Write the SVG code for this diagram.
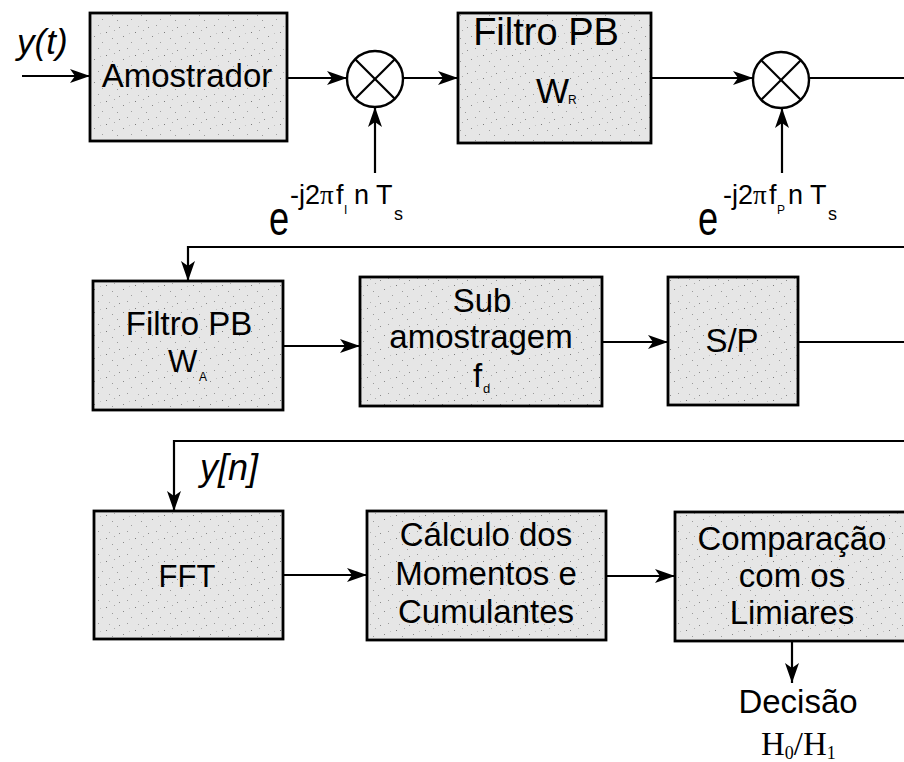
<svg xmlns="http://www.w3.org/2000/svg" width="904" height="762" viewBox="0 0 904 762">
<defs>
<pattern id="speck" width="29" height="23" patternUnits="userSpaceOnUse">
<rect width="29" height="23" fill="#e6e6e6"/>
<rect x="3" y="4" width="1" height="1" fill="#8a8a8a"/>
<rect x="11" y="2" width="1" height="1" fill="#9a9a9a"/>
<rect x="19" y="9" width="1" height="1" fill="#7a7a7a"/>
<rect x="25" y="15" width="1" height="1" fill="#9a9a9a"/>
<rect x="7" y="13" width="1" height="1" fill="#888"/>
<rect x="15" y="19" width="1" height="1" fill="#a0a0a0"/>
<rect x="22" y="3" width="1" height="1" fill="#b0b0b0"/>
<rect x="1" y="20" width="1" height="1" fill="#999"/>
<rect x="13" y="10" width="1" height="1" fill="#c0c0c0"/>
<rect x="27" y="7" width="1" height="1" fill="#aaa"/>
</pattern>
<marker id="ah" markerWidth="20" markerHeight="14" refX="20" refY="7" orient="auto" markerUnits="userSpaceOnUse">
<path d="M0,0 L20,7 L0,14 L5,7 Z" fill="#000"/>
</marker>
<style>
.box{fill:url(#speck);stroke:#000;stroke-width:2.8}
.ln{fill:none;stroke:#000;stroke-width:2.2}
.ar{fill:none;stroke:#000;stroke-width:2.2;marker-end:url(#ah)}
.t{font-family:"Liberation Sans",Arial,sans-serif;font-size:33px;fill:#000}
.c{text-anchor:middle}
.it{font-style:italic}
.sup{font-family:"Liberation Sans",Arial,sans-serif;font-size:27px;fill:#000}
.sub{font-family:"Liberation Sans",Arial,sans-serif;font-size:13px;fill:#000}
.srf{font-family:"Liberation Serif","Times New Roman",serif;fill:#000}
.mul{fill:#fff;stroke:#000;stroke-width:2.4}
</style>
</defs>

<g id="connectors">
<line class="ar" x1="22" y1="76" x2="90" y2="76"/>
<line class="ar" x1="287" y1="78" x2="347" y2="78"/>
<line class="ar" x1="403" y1="78" x2="458" y2="78"/>
<line class="ar" x1="651" y1="78" x2="753" y2="78"/>
<line class="ln" x1="809" y1="78" x2="904" y2="78"/>
<line class="ar" x1="375" y1="173" x2="375" y2="107"/>
<line class="ar" x1="782" y1="173" x2="782" y2="108"/>
<polyline class="ar" points="904,247 188,247 188,281"/>
<line class="ar" x1="283" y1="346" x2="360" y2="346"/>
<line class="ar" x1="602" y1="342" x2="668" y2="342"/>
<line class="ln" x1="798" y1="342" x2="904" y2="342"/>
<polyline class="ar" points="904,441 174,441 174,511"/>
<line class="ar" x1="283" y1="575" x2="367" y2="575"/>
<line class="ar" x1="606" y1="576" x2="675" y2="576"/>
<line class="ar" x1="792" y1="641" x2="792" y2="683"/>
</g>

<g id="input-label">
<text class="t it" x="17" y="54" style="font-size:35px">y(t)</text>
</g>

<g id="amostrador">
<rect class="box" x="90" y="13" width="197" height="128"/>
<text class="t c" x="187" y="87">Amostrador</text>
</g>

<g id="mult1">
<circle class="mul" cx="375" cy="79" r="28"/>
<line class="ln" x1="355.2" y1="59.2" x2="394.8" y2="98.8"/>
<line class="ln" x1="394.8" y1="59.2" x2="355.2" y2="98.8"/>
</g>

<g id="osc1">
<text class="t" style="font-size:49px" transform="translate(269,235) scale(0.74,1)">e</text>
<text class="sup" y="204"><tspan x="290">-j2</tspan><tspan x="320" class="srf">π</tspan><tspan x="336">f</tspan></text>
<text class="sub" x="344" y="214" style="font-size:12px">I</text>
<text class="sup" y="204"><tspan x="354">n</tspan><tspan x="376">T</tspan></text>
<text class="sub" x="394" y="220" style="font-size:18px">s</text>
</g>

<g id="filtro-wr">
<rect class="box" x="458" y="13" width="193" height="130"/>
<text class="t c" x="546" y="45" style="font-size:38px">Filtro PB</text>
<text class="t" x="536" y="103" style="font-size:35px">W</text>
<text class="sub" x="568" y="104" style="font-size:12px">R</text>
</g>

<g id="mult2">
<circle class="mul" cx="781" cy="80" r="28"/>
<line class="ln" x1="761.2" y1="60.2" x2="800.8" y2="99.8"/>
<line class="ln" x1="800.8" y1="60.2" x2="761.2" y2="99.8"/>
</g>

<g id="osc2">
<text class="t" style="font-size:49px" transform="translate(698,235) scale(0.74,1)">e</text>
<text class="sup" y="204"><tspan x="723">-j2</tspan><tspan x="753" class="srf">π</tspan><tspan x="769">f</tspan></text>
<text class="sub" x="777" y="214" style="font-size:12px">P</text>
<text class="sup" y="204"><tspan x="788">n</tspan><tspan x="810">T</tspan></text>
<text class="sub" x="828" y="220" style="font-size:18px">s</text>
</g>

<g id="filtro-wa">
<rect class="box" x="93" y="281" width="190" height="129"/>
<text class="t c" x="189" y="335">Filtro PB</text>
<text class="t" x="168" y="372" style="font-size:31px">W</text>
<text class="sub" x="199" y="381" style="font-size:12px">A</text>
</g>

<g id="subamostragem">
<rect class="box" x="360" y="277" width="242" height="129"/>
<text class="t c" x="482" y="312">Sub</text>
<text class="t c" x="481" y="348">amostragem</text>
<text class="t" x="473" y="387">f</text>
<text class="sub" x="483" y="393">d</text>
</g>

<g id="sp">
<rect class="box" x="668" y="277" width="130" height="128"/>
<text class="t c" x="732" y="352">S/P</text>
</g>

<g id="yn-label">
<text class="t it" x="200" y="480" style="font-size:36px">y[n]</text>
</g>

<g id="fft">
<rect class="box" x="94" y="511" width="189" height="128"/>
<text class="t c" x="187" y="587" style="font-size:31px">FFT</text>
</g>

<g id="calculo">
<rect class="box" x="367" y="511" width="239" height="129"/>
<text class="t c" x="486" y="546">Cálculo dos</text>
<text class="t c" x="486" y="585">Momentos e</text>
<text class="t c" x="486" y="623">Cumulantes</text>
</g>

<g id="comparacao">
<rect class="box" x="675" y="512" width="232" height="129"/>
<text class="t c" x="792" y="550">Comparação</text>
<text class="t c" x="792" y="587">com os</text>
<text class="t c" x="792" y="624">Limiares</text>
</g>

<g id="decisao">
<text class="t c" x="798" y="713">Decisão</text>
<text class="srf" y="755" style="font-size:33px"><tspan x="761">H</tspan><tspan style="font-size:18px" dy="4">0</tspan><tspan dy="-4">/H</tspan><tspan style="font-size:18px" dy="4">1</tspan></text>
</g>
</svg>
